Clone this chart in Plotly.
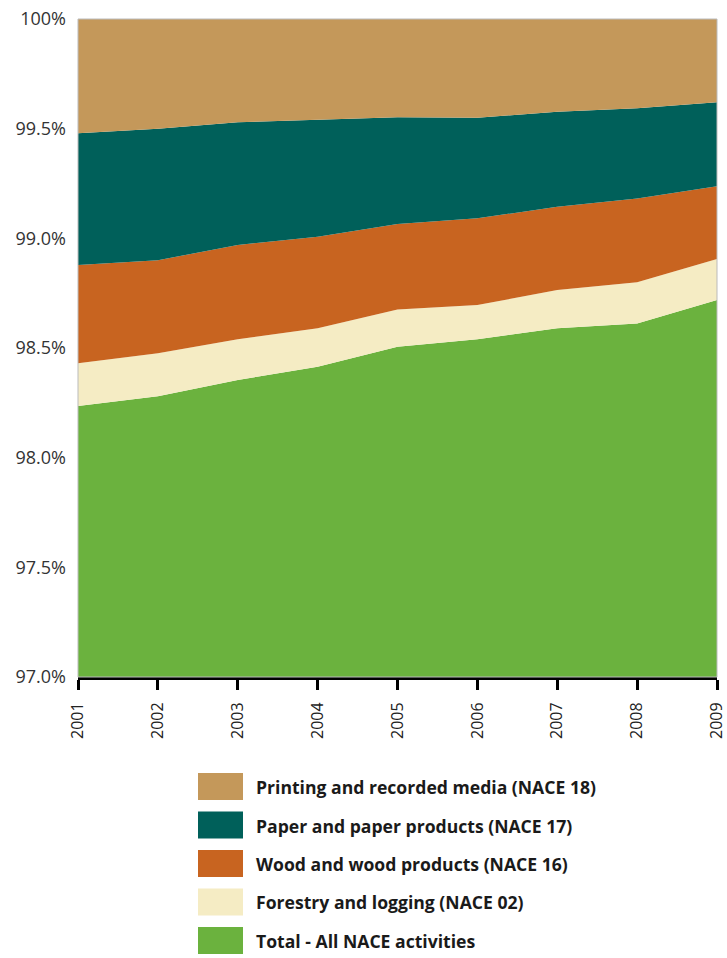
import plotly.graph_objects as go

years = [2001, 2002, 2003, 2004, 2005, 2006, 2007, 2008, 2009]
total_all = [98.235, 98.28, 98.354, 98.415, 98.506, 98.54, 98.59, 98.612, 98.719]
forestry = [0.195, 0.196, 0.186, 0.175, 0.170, 0.156, 0.174, 0.188, 0.187]
wood = [0.448, 0.424, 0.430, 0.417, 0.389, 0.395, 0.380, 0.382, 0.332]
paper = [0.601, 0.600, 0.559, 0.533, 0.487, 0.459, 0.433, 0.411, 0.382]
printing = [0.521, 0.500, 0.471, 0.460, 0.448, 0.450, 0.423, 0.407, 0.380]

names = ["Total - All NACE activities", "Forestry and logging (NACE 02)",
         "Wood and wood products (NACE 16)", "Paper and paper products (NACE 17)",
         "Printing and recorded media (NACE 18)"]
series = [total_all, forestry, wood, paper, printing]
colors = ["#6BB23E", "#F5ECC4", "#C86420", "#00605A", "#C4985A"]

y_ticks = [97.0, 97.5, 98.0, 98.5, 99.0, 99.5, 100.0]
y_ticktext = ["97.0%", "97.5%", "98.0%", "98.5%", "99.0%", "99.5%", "100%"]

W, H = 727, 958
ML, MR, MT, MB = 78, 10, 19, 281
PW, PH = W - ML - MR, H - MT - MB

fig = go.Figure()
for nm, vals, c in zip(names, series, colors):
    fig.add_trace(go.Scatter(x=years, y=vals, name=nm, mode="lines",
                             line=dict(width=0, color=c), fillcolor=c,
                             stackgroup="one", hoverinfo="skip"))

def px_x(x):
    return (x - ML) / PW

def px_y(y):
    return (H - MB - y) / PH

shapes = [dict(type="rect", xref="paper", yref="paper", x0=0, x1=1, y0=0, y1=1,
               line=dict(color="#BBBBBB", width=1), layer="above")]
annotations = []
legend_order = list(range(4, -1, -1))
for i, idx in enumerate(legend_order):
    top = 773 + i * 38.5
    shapes.append(dict(type="rect", xref="paper", yref="paper",
                       x0=px_x(198), x1=px_x(243), y0=px_y(top + 27), y1=px_y(top),
                       fillcolor=colors[idx], line=dict(width=0)))
    annotations.append(dict(xref="paper", yref="paper", x=px_x(254), y=px_y(top + 14),
                            xanchor="left", yanchor="middle", showarrow=False,
                            text="<b>" + names[idx] + "</b>",
                            font=dict(family="Open Sans", size=17.6, color="#1a1a1a")))

fig.update_layout(
    width=W, height=H,
    margin=dict(l=ML, r=MR, t=MT, b=MB, autoexpand=False),
    paper_bgcolor="white", plot_bgcolor="white",
    showlegend=False,
    shapes=shapes, annotations=annotations,
    xaxis=dict(range=[2001, 2009], tickvals=years, ticktext=[str(y) for y in years],
               tickangle=-90, showline=True, linecolor="black", linewidth=3,
               ticks="outside", ticklen=10, tickwidth=3, tickcolor="black",
               showgrid=False, zeroline=False, ticklabeloverflow="allow",
               automargin=False, ticklabelstandoff=6,
               tickfont=dict(family="Open Sans", size=16, color="#222")),
    yaxis=dict(range=[97, 100], tickvals=y_ticks, ticktext=y_ticktext,
               showgrid=False, zeroline=False, showline=False, ticks="",
               ticklabelstandoff=11, automargin=False,
               tickfont=dict(family="Open Sans", size=18, color="#333")),
    yaxis2=dict(range=[97, 100], overlaying="y", side="right", tickvals=y_ticks,
                showticklabels=False, ticks="outside", ticklen=3, tickcolor="#BBBBBB",
                showline=False, showgrid=False, zeroline=False, automargin=False),
)
fig.write_html("out.html", config={"displayModeBar": False},
               post_script="document.body.style.margin='0';")
